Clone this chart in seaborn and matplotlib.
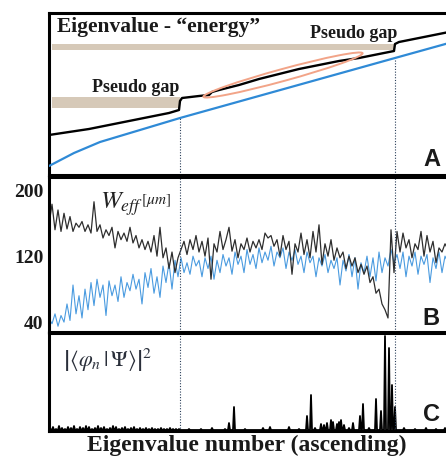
import matplotlib
matplotlib.use("Agg")
import matplotlib.pyplot as plt
from matplotlib.patches import Ellipse
import numpy as np
import pandas as pd
import seaborn as sns

# ---- panel A: eigenvalue ("energy") curves, index vs level
a_idx_black = [0, 20, 40, 60, 80, 100, 120, 130, 131, 133, 150, 160, 163, 170, 190, 210,
               230, 250, 270, 290, 310, 330, 345, 346, 350, 370, 385, 400]
a_black = [40, 43, 46, 50, 54, 58, 62, 65, 74, 77, 79, 80, 83, 85, 90, 96,
           101, 106, 110, 114, 117, 121, 124, 131, 133, 137, 140, 143]
a_idx_blue = [0, 25, 51, 131, 346, 400]
a_blue = [9, 22, 33, 57, 117, 132]
gaps = [131, 346]           # pseudo gap positions (eigenvalue number)
gap_levels = [(67, 78), (125, 131)]

# ---- panel B: W_eff [um], sampled every 3 eigenvalues
b_step = 3
b_black = [158, 183, 152, 176, 150, 172, 153, 168, 150, 160, 155, 162, 150, 158, 148, 186,
           150, 158, 142, 152, 145, 155, 130, 150, 140, 148, 138, 155, 136, 145, 130, 140,
           128, 138, 125, 145, 120, 155, 118, 130, 105, 125, 100, 118, 128, 138, 122, 140,
           128, 145, 125, 138, 120, 142, 92, 135, 125, 150, 128, 140, 155, 126, 140, 118,
           135, 128, 142, 125, 138, 130, 140, 128, 148, 142, 145, 132, 140, 120, 145, 128,
           138, 98, 135, 125, 148, 122, 140, 118, 150, 125, 158, 110, 135, 120, 140, 115,
           130, 118, 125, 105, 120, 108, 118, 100, 110, 98, 108, 88, 95, 75, 80, 62,
           55, 45, 152, 100, 150, 125, 148, 130, 140, 118, 135, 128, 150, 120, 145, 125,
           138, 112, 130, 125, 135, 128]
b_blue = [45, 38, 50, 35, 48, 40, 62, 42, 85, 50, 72, 45, 80, 55, 88, 60,
          92, 70, 85, 48, 90, 72, 85, 65, 95, 70, 88, 78, 98, 80, 92, 62,
          100, 82, 105, 75, 95, 70, 108, 88, 112, 80, 115, 95, 118, 100, 112, 98,
          120, 108, 115, 95, 118, 105, 120, 92, 115, 100, 122, 108, 118, 98, 125, 110,
          120, 100, 128, 110, 122, 105, 130, 112, 125, 115, 132, 108, 125, 118, 130, 105,
          125, 115, 128, 110, 120, 100, 125, 112, 120, 95, 118, 108, 122, 100, 115, 105,
          118, 85, 115, 102, 122, 95, 118, 80, 112, 100, 120, 95, 118, 90, 125, 100,
          118, 108, 128, 112, 122, 105, 125, 95, 120, 108, 125, 98, 120, 110, 122, 88,
          118, 105, 125, 100, 120, 112]
b_ticks = [40, 120, 200]

# ---- panel C: overlap |<phi_n|Psi>|^2 (nonzero entries only)
c_n = 400
c_idx = [1, 4, 7, 10, 13, 16, 19, 22, 25, 28, 31, 34, 37, 40, 43, 46, 49, 52, 55, 58,
         61, 64, 67, 70, 73, 76, 79, 82, 85, 88, 91, 94, 97, 100, 103, 106, 109, 112, 115,
         118, 121, 124, 127, 130,
         140, 152, 163, 176, 180, 185, 196, 214, 221, 240, 250, 258, 262, 266,
         272, 275, 278, 282, 284, 288, 290, 292, 295, 300, 304, 311, 314, 320,
         327, 332, 336, 340, 343, 346, 355, 366, 377, 387, 396]
c_val = [2, 3, 1, 4, 2, 1, 3, 2, 4, 1, 3, 2, 4, 3, 1, 2, 4, 2, 3, 1,
         2, 4, 3, 1, 2, 3, 1, 2, 3, 1, 2, 1, 2, 1, 2, 1, 1, 2, 1,
         1, 2, 1, 1, 1,
         1, 1, 2, 1, 7, 23, 1, 2, 3, 3, 1, 14, 35, 2,
         6, 5, 7, 10, 8, 6, 8, 10, 5, 2, 7, 14, 26, 2,
         31, 19, 94, 82, 45, 23, 2, 1, 2, 1, 2]

sns.set_theme(style="white")
plt.rcParams["mathtext.fontset"] = "stix"
plt.rcParams["font.family"] = ["Liberation Serif", "DejaVu Serif"]

fig = plt.figure(figsize=(4.46, 4.59), dpi=100)
W, H = 446, 459
left, right = 49 / W, 449 / W
axA = fig.add_axes([left, 1 - 175 / H, right - left, 162 / H])
axB = fig.add_axes([left, 1 - 332 / H, right - left, 155 / H])
axC = fig.add_axes([left, 1 - 431 / H, right - left, 98 / H])

for ax in (axA, axB, axC):
    ax.set_xlim(0, 400)
    ax.set_xticks([])
    for s in ax.spines.values():
        s.set_color("black")
        s.set_linewidth(2.2)

# ---- A
axA.set_ylim(0, 162)
axA.set_yticks([])
axA.fill_between([3, gaps[0]], *gap_levels[0], color="#d6c9b8", lw=0, zorder=1)
axA.fill_between([3, gaps[1]], *gap_levels[1], color="#d6c9b8", lw=0, zorder=1)
dfA1 = pd.DataFrame({"n": a_idx_black, "E": a_black})
dfA2 = pd.DataFrame({"n": a_idx_blue, "E": a_blue})
sns.lineplot(data=dfA2, x="n", y="E", ax=axA, color="#2f8ad6", lw=1.6, estimator=None, zorder=3)
sns.lineplot(data=dfA1, x="n", y="E", ax=axA, color="black", lw=1.7, estimator=None, zorder=4)
for g in gaps:
    top = np.interp(g, a_idx_blue, a_blue)
    axA.vlines(g, 0, top, colors="#2a3f5a", lw=0.8, linestyles=(0, (1, 1.5)), zorder=2)
axA.add_patch(Ellipse((234, 100), 165, 12, angle=15.3, fill=False,
                      ec="#f2a488", lw=1.4, zorder=5))
axA.text(8, 148, "Eigenvalue - \u201cenergy\u201d", fontsize=15.5, fontweight="bold",
         va="center", ha="left", color="#1a1a1a")
axA.text(261, 142, "Pseudo gap", fontsize=13, fontweight="bold", va="center", color="#1a1a1a")
axA.text(43, 87, "Pseudo gap", fontsize=13, fontweight="bold", va="center", color="#1a1a1a")
axA.text(391, 4, "A", fontsize=17, fontweight="bold", ha="right", va="bottom",
         family="Liberation Sans", color="#1a1a1a")
axA.set_xlabel("")
axA.set_ylabel("")

# ---- B
nB = np.arange(len(b_black)) * b_step
dfB = pd.DataFrame({"n": nB, "black": b_black, "blue": b_blue})
sns.lineplot(data=dfB, x="n", y="blue", ax=axB, color="#4a9be0", lw=0.8, estimator=None)
sns.lineplot(data=dfB, x="n", y="black", ax=axB, color="#2e2e2e", lw=0.9, estimator=None)
axB.set_ylim(28, 216)
axB.set_yticks(b_ticks)
axB.set_yticklabels([str(t) for t in b_ticks], fontsize=14, fontweight="bold", color="#1a1a1a")
axB.tick_params(axis="y", length=0, pad=4)
for g in gaps:
    axB.axvline(g, color="#2a3f5a", lw=0.8, ls=(0, (1, 1.5)))
axB.text(51, 178, r"$W_{eff}$", fontsize=18, color="#222222")
axB.text(92, 183, r"$[\mu m]$", fontsize=11, color="#222222")
axB.text(391, 31, "B", fontsize=17, fontweight="bold", ha="right", va="bottom",
         family="Liberation Sans", color="#1a1a1a")
axB.set_xlabel("")
axB.set_ylabel("")

# ---- C
c_full = np.zeros(c_n)
c_full[c_idx] = c_val
dfC = pd.DataFrame({"n": np.arange(c_n), "p": c_full})
sns.lineplot(data=dfC, x="n", y="p", ax=axC, color="black", lw=1.3, estimator=None)
axC.set_ylim(-1, 97)
axC.set_yticks([])
for g in gaps:
    axC.axvline(g, color="#2a3f5a", lw=0.8, ls=(0, (1, 1.5)))
axC.text(14, 70, r"$\left|\langle\varphi_n\,|\,\Psi\rangle\right|^2$", fontsize=16,
         va="center", color="#2a2f3a")
axC.text(391, 4, "C", fontsize=17, fontweight="bold", ha="right", va="bottom",
         family="Liberation Sans", color="#1a1a1a")
axC.set_xlabel("")
axC.set_ylabel("")

fig.text(247 / W, 1 - 445 / H, "Eigenvalue number (ascending)", fontsize=17,
         fontweight="bold", ha="center", va="center", color="#1a1a1a")

fig.savefig("out.png", dpi=100)
